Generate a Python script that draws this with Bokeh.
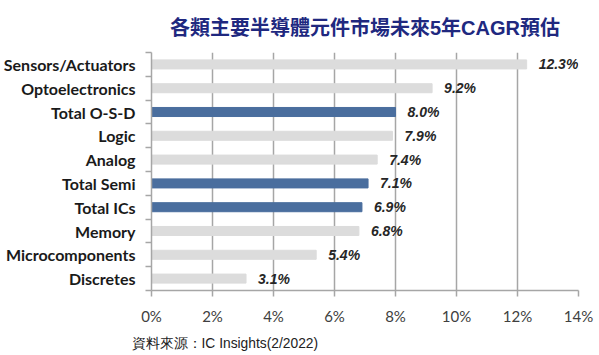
from bokeh.plotting import figure
from bokeh.models import FixedTicker, Title, LabelSet, ColumnDataSource, Range1d
from bokeh.core.properties import value
from bokeh.embed import file_html
from bokeh.resources import INLINE

title_text = "各類主要半導體元件市場未來5年CAGR預估"
source_text = "資料來源：IC Insights(2/2022)"
categories = ["Sensors/Actuators", "Optoelectronics", "Total O-S-D", "Logic", "Analog",
              "Total Semi", "Total ICs", "Memory", "Microcomponents", "Discretes"]
cagr = [12.3, 9.2, 8.0, 7.9, 7.4, 7.1, 6.9, 6.8, 5.4, 3.1]
highlighted = ["Total O-S-D", "Total Semi", "Total ICs"]
x_ticks = [0, 2, 4, 6, 8, 10, 12, 14]

n = len(categories)
ypos = [n - 1 - i for i in range(n)]
colors = ["#4A6E9E" if c in highlighted else "#DCDCDC" for c in categories]
labels = [f"{v:.1f}%" for v in cagr]

src = ColumnDataSource(dict(y=ypos, v=cagr, color=colors, label=labels))

p = figure(frame_width=427, frame_height=238, min_border_left=151, min_border_right=21,
           min_border_top=52, min_border_bottom=65, output_backend="svg",
           toolbar_location=None, x_range=Range1d(0, 14), y_range=Range1d(-0.5, n - 0.5))
p.outline_line_color = None
p.background_fill_color = "white"

p.hbar(y="y", left=0, right="v", height=0.38, color="color", source=src)

p.add_layout(LabelSet(x="v", y="y", text="label", source=src, x_offset=12,
                      text_baseline="middle", text_font=value("Liberation Sans"),
                      text_font_size=value("14px"),
                      text_font_style=value("bold italic"), text_color="#262626"))

# x axis
p.xaxis.ticker = FixedTicker(ticks=x_ticks)
p.xaxis.major_label_overrides = {t: f"{t}%" for t in x_ticks}
p.xaxis.axis_line_color = "#A6A6A6"
p.xaxis.axis_line_width = 1.5
p.xaxis.major_tick_line_color = "#A6A6A6"
p.xaxis.major_tick_line_width = 1.5
p.xaxis.major_tick_in = 0
p.xaxis.major_tick_out = 6
p.xaxis.minor_tick_line_color = None
p.xaxis.major_label_text_font = "Lato"
p.xaxis.major_label_text_font_size = "15px"
p.xaxis.major_label_text_color = "#404040"
p.xaxis.major_label_standoff = 10

p.xgrid.ticker = FixedTicker(ticks=x_ticks)
p.xgrid.grid_line_color = "#A6A6A6"
p.xgrid.grid_line_width = 1.5
p.ygrid.grid_line_color = None

# y axis
p.yaxis.ticker = FixedTicker(ticks=ypos, minor_ticks=[k - 0.5 for k in range(n + 1)])
p.yaxis.major_label_overrides = {y: c for y, c in zip(ypos, categories)}
p.yaxis.axis_line_color = "#A6A6A6"
p.yaxis.axis_line_width = 1.5
p.yaxis.major_tick_line_color = None
p.yaxis.major_tick_out = 6
p.yaxis.major_tick_in = 0
p.yaxis.minor_tick_line_color = "#A6A6A6"
p.yaxis.minor_tick_line_width = 1.5
p.yaxis.minor_tick_out = 6
p.yaxis.minor_tick_in = 0
p.yaxis.major_label_text_font = "Lato"
p.yaxis.major_label_text_font_size = "16px"
p.yaxis.major_label_text_font_style = "bold"
p.yaxis.major_label_text_color = "#1A1A1A"
p.yaxis.major_label_standoff = 10

p.add_layout(Title(text=source_text, align="left", offset=-20, standoff=12,
                   text_font="Liberation Sans", text_font_size="13.8px",
                   text_font_style="normal", text_color="#222222"), "below")
p.add_layout(Title(text=title_text, align="center", offset=-103, standoff=27,
                   text_font="Liberation Sans, Noto Sans CJK TC", text_font_size="20px",
                   text_font_style="bold", text_color="#20287F"), "above")

open("out.html", "w").write(file_html(p, INLINE))
